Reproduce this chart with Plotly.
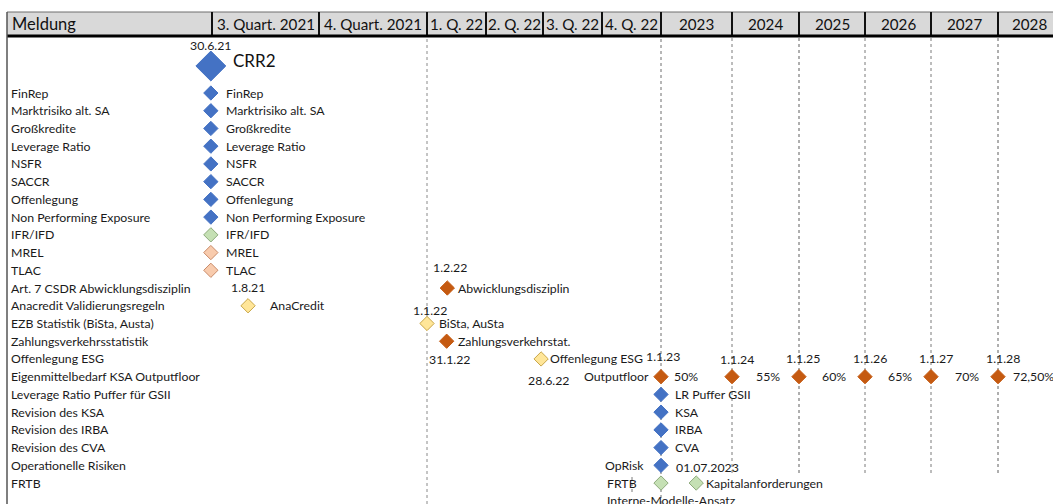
import plotly.graph_objects as go
from datetime import date

# ------------------------------------------------------------------ data
HEADER_LABELS = ["Meldung", "3. Quart. 2021", "4. Quart. 2021", "1. Q. 22", "2. Q. 22",
                 "3. Q. 22", "4. Q. 22", "2023", "2024", "2025", "2026", "2027", "2028"]
PERIOD_STARTS = [None, date(2021, 7, 1), date(2021, 10, 1), date(2022, 1, 1), date(2022, 4, 1),
                 date(2022, 7, 1), date(2022, 10, 1), date(2023, 1, 1), date(2024, 1, 1),
                 date(2025, 1, 1), date(2026, 1, 1), date(2027, 1, 1), date(2028, 1, 1)]
PERIOD_END = date(2029, 1, 1)

ROW_LABELS = ["FinRep", "Marktrisiko alt. SA", "Großkredite", "Leverage Ratio", "NSFR", "SACCR",
              "Offenlegung", "Non Performing Exposure", "IFR/IFD", "MREL", "TLAC",
              "Art. 7 CSDR Abwicklungsdisziplin", "Anacredit Validierungsregeln",
              "EZB Statistik (BiSta, Austa)", "Zahlungsverkehrsstatistik", "Offenlegung ESG",
              "Eigenmittelbedarf KSA Outputfloor", "Leverage Ratio Puffer für GSII",
              "Revision des KSA", "Revision des IRBA", "Revision des CVA",
              "Operationelle Risiken", "FRTB"]

# headline milestone
CRR2_DATE = date(2021, 6, 30)
CRR2_LABEL = "CRR2"
CRR2_DATE_LABEL = "30.6.21"

# milestones
MS_ROW = ["FinRep", "Marktrisiko alt. SA", "Großkredite", "Leverage Ratio", "NSFR", "SACCR",
          "Offenlegung", "Non Performing Exposure", "IFR/IFD", "MREL", "TLAC",
          "Art. 7 CSDR Abwicklungsdisziplin", "Anacredit Validierungsregeln",
          "EZB Statistik (BiSta, Austa)", "Zahlungsverkehrsstatistik", "Offenlegung ESG",
          "Eigenmittelbedarf KSA Outputfloor", "Eigenmittelbedarf KSA Outputfloor",
          "Eigenmittelbedarf KSA Outputfloor", "Eigenmittelbedarf KSA Outputfloor",
          "Eigenmittelbedarf KSA Outputfloor", "Eigenmittelbedarf KSA Outputfloor",
          "Leverage Ratio Puffer für GSII", "Revision des KSA", "Revision des IRBA",
          "Revision des CVA", "Operationelle Risiken", "FRTB", "FRTB"]
MS_DATE = [date(2021, 6, 30), date(2021, 6, 30), date(2021, 6, 30), date(2021, 6, 30),
           date(2021, 6, 30), date(2021, 6, 30), date(2021, 6, 30), date(2021, 6, 30),
           date(2021, 6, 30), date(2021, 6, 30), date(2021, 6, 30),
           date(2022, 2, 1), date(2021, 8, 1), date(2022, 1, 1), date(2022, 1, 31),
           date(2022, 6, 28),
           date(2023, 1, 1), date(2024, 1, 1), date(2025, 1, 1), date(2026, 1, 1),
           date(2027, 1, 1), date(2028, 1, 1),
           date(2023, 1, 1), date(2023, 1, 1), date(2023, 1, 1), date(2023, 1, 1),
           date(2023, 1, 1), date(2023, 1, 1), date(2023, 7, 1)]
MS_KIND = ["CRR2", "CRR2", "CRR2", "CRR2", "CRR2", "CRR2", "CRR2", "CRR2",
           "IFR", "Abwicklung", "Abwicklung",
           "Umsetzung", "Statistik", "Statistik", "Umsetzung", "Statistik",
           "Umsetzung", "Umsetzung", "Umsetzung", "Umsetzung", "Umsetzung", "Umsetzung",
           "CRR2", "CRR2", "CRR2", "CRR2", "CRR2", "IFR", "IFR"]
MS_LABEL = ["FinRep", "Marktrisiko alt. SA", "Großkredite", "Leverage Ratio", "NSFR", "SACCR",
            "Offenlegung", "Non Performing Exposure", "IFR/IFD", "MREL", "TLAC",
            "Abwicklungsdisziplin", "AnaCredit", "BiSta, AuSta", "Zahlungsverkehrstat.",
            "Offenlegung ESG", "50%", "55%", "60%", "65%", "70%", "72,50%",
            "LR Puffer GSII", "KSA", "IRBA", "CVA", "01.07.2023", "", "Kapitalanforderungen"]
MS_DATE_LABEL = ["", "", "", "", "", "", "", "", "", "", "",
                 "1.2.22", "1.8.21", "1.1.22", "31.1.22", "28.6.22",
                 "1.1.23", "1.1.24", "1.1.25", "1.1.26", "1.1.27", "1.1.28",
                 "", "", "", "", "", "", ""]

# free notes beside milestones
NOTE_TEXT = ["Outputfloor", "OpRisk", "FRTB", "Interne-Modelle-Ansatz"]
NOTE_ROW = ["Eigenmittelbedarf KSA Outputfloor", "Operationelle Risiken", "FRTB", "FRTB"]
NOTE_DATE = [date(2023, 1, 1), date(2023, 1, 1), date(2023, 1, 1), date(2023, 1, 1)]

# ------------------------------------------------------------------ style / layout
W, H = 1053, 504
COL_EDGES = [7, 212, 319, 427, 486, 543, 602, 661, 732, 799, 865, 931, 998, 1065]
ROW0_PX, ROW_STEP = 93, 17.73
HEAD_TOP, HEAD_BOT = 12, 36
FONT = "Lato"
FS = 12.3
TXT = "#1a1a1a"
KIND_STYLE = {
    "CRR2": dict(color="#4472C4", line=dict(color="#4472C4", width=1)),
    "IFR": dict(color="#C5E0B4", line=dict(color="#8DAA7B", width=1)),
    "Abwicklung": dict(color="#F8CBAD", line=dict(color="#C98A68", width=1)),
    "Statistik": dict(color="#FFE699", line=dict(color="#C9A648", width=1)),
    "Umsetzung": dict(color="#C55A11", line=dict(color="#C55A11", width=1)),
}
# label offsets (px) per milestone
MS_LABEL_DX = [13, 13, 13, 13, 13, 13, 13, 13, 13, 13, 13,
               9, 20, 10, 9, 7,
               11, 22, 21, 21, 22, 13,
               12, 12, 12, 12, 13, 0, 8]
MS_LABEL_DY = [0] * 26 + [-2, 0, 0]
MS_DATE_DX = [0] * 11 + [3, 0, 3, 3, 7, 2, 5, 4, 5, 5, 5] + [0] * 7
MS_DATE_DY = [0] * 11 + [21, 18, 13, -18, -22, 20, 17, 18, 18, 18, 18] + [0] * 7
NOTE_DX = [-10, -15, -56, -56]
NOTE_DY = [0, 0, 0, -17]
NOTE_ANCHOR = ["right", "right", "left", "left"]


def date_to_x(d):
    """piecewise-linear timeline scale defined by the header columns"""
    starts = PERIOD_STARTS[1:] + [PERIOD_END]
    edges = COL_EDGES[1:]
    if d < starts[0]:
        span = (starts[1] - starts[0]).days
        return edges[0] - (starts[0] - d).days * (edges[1] - edges[0]) / span
    for i in range(len(starts) - 1):
        if starts[i] <= d < starts[i + 1]:
            frac = (d - starts[i]).days / (starts[i + 1] - starts[i]).days
            return edges[i] + frac * (edges[i + 1] - edges[i])
    return edges[-1]


def row_y(name):
    return ROW_LABELS.index(name)


def px_to_row(py):
    return (py - ROW0_PX) / ROW_STEP


fig = go.Figure()

# markers per kind
for kind, st in KIND_STYLE.items():
    xs = [date_to_x(d) for d, k in zip(MS_DATE, MS_KIND) if k == kind]
    ys = [row_y(r) for r, k in zip(MS_ROW, MS_KIND) if k == kind]
    fig.add_trace(go.Scatter(x=xs, y=ys, mode="markers", hoverinfo="skip", showlegend=False,
                             marker=dict(symbol="diamond", size=11, **st)))

# CRR2 headline marker
crr_y = px_to_row(66)
fig.add_trace(go.Scatter(x=[date_to_x(CRR2_DATE)], y=[crr_y], mode="markers", hoverinfo="skip",
                         showlegend=False,
                         marker=dict(symbol="diamond", size=23, **KIND_STYLE["CRR2"])))

ann = []
# header
shapes = [dict(type="rect", xref="x", yref="paper", x0=COL_EDGES[0], x1=W + 20,
               y0=1 - HEAD_BOT / H, y1=1 - HEAD_TOP / H, fillcolor="#D9D9D9",
               line=dict(width=0), layer="below")]
shapes.append(dict(type="line", xref="x", yref="paper", x0=COL_EDGES[0], x1=W + 20,
                   y0=1 - HEAD_TOP / H, y1=1 - HEAD_TOP / H, line=dict(color="#6e6e6e", width=1)))
for e in COL_EDGES[1:-1]:
    shapes.append(dict(type="line", xref="x", yref="paper", x0=e, x1=e,
                       y0=1 - HEAD_BOT / H, y1=1 - HEAD_TOP / H, line=dict(color="#111", width=2)))
shapes.append(dict(type="line", xref="x", yref="paper", x0=COL_EDGES[0], x1=W + 20,
                   y0=1 - HEAD_BOT / H, y1=1 - HEAD_BOT / H, line=dict(color="#000", width=3)))
shapes.append(dict(type="line", xref="x", yref="paper", x0=COL_EDGES[0], x1=COL_EDGES[0],
                   y0=0, y1=1 - HEAD_TOP / H, line=dict(color="#555", width=1.5)))
head_y = 1 - (HEAD_TOP + HEAD_BOT) / 2 / H
for i, lab in enumerate(HEADER_LABELS):
    if i == 0:
        ann.append(dict(x=COL_EDGES[0] + 3, y=head_y, xref="x", yref="paper", yanchor="middle",
                        text=lab, showarrow=False, xanchor="left",
                        font=dict(family=FONT, size=16.5, color="#111")))
    else:
        cx_h = (COL_EDGES[i] + COL_EDGES[i + 1]) / 2 if i < len(HEADER_LABELS) - 1 \
            else COL_EDGES[i] + 31
        ann.append(dict(x=cx_h, y=head_y, xref="x", yref="paper", yanchor="middle", text=lab,
                        showarrow=False, xanchor="center",
                        font=dict(family=FONT, size=15.2, color="#111")))

# vertical period lines
for ps, long, col in [(date(2022, 1, 1), True, "#8a8a8a"), (date(2023, 1, 1), True, "#6f6f6f"),
                      (date(2024, 1, 1), False, "#7a7a7a"), (date(2025, 1, 1), False, "#5f5f5f"),
                      (date(2026, 1, 1), False, "#7a7a7a"), (date(2027, 1, 1), False, "#7a7a7a"),
                      (date(2028, 1, 1), False, "#5f5f5f")]:
    x = date_to_x(ps)
    shapes.append(dict(type="line", xref="x", yref="paper", x0=x, x1=x,
                       y0=0 if long else 1 - 473 / H, y1=1 - HEAD_BOT / H - 0.004,
                       line=dict(color=col, width=1, dash="dot"), layer="below"))
# small dotted tick near FRTB
shapes.append(dict(type="line", xref="x", yref="paper", x0=632, x1=632, y0=1 - 492 / H,
                   y1=1 - 474 / H, line=dict(color="#7a7a7a", width=1, dash="dot")))

# row labels
for i, lab in enumerate(ROW_LABELS):
    ann.append(dict(x=9, y=i, text=lab, showarrow=False, xanchor="left", yanchor="middle",
                    font=dict(family=FONT, size=FS, color=TXT)))

# CRR2 headline texts
cx = date_to_x(CRR2_DATE)
ann.append(dict(x=cx, y=crr_y, text=CRR2_LABEL, showarrow=False, xanchor="left", xshift=20,
                yshift=6, yanchor="middle", font=dict(family=FONT, size=17, color="#111")))
ann.append(dict(x=cx, y=crr_y, text=CRR2_DATE_LABEL, showarrow=False, xanchor="center",
                yanchor="middle", yshift=21, font=dict(family=FONT, size=FS, color=TXT)))

# milestone labels
for r, d, lab, dx, dy, dl, ddx, ddy in zip(MS_ROW, MS_DATE, MS_LABEL, MS_LABEL_DX, MS_LABEL_DY,
                                           MS_DATE_LABEL, MS_DATE_DX, MS_DATE_DY):
    x, y = date_to_x(d), row_y(r)
    if lab:
        ann.append(dict(x=x, y=y, text=lab, showarrow=False, xanchor="left", yanchor="middle",
                        xshift=dx, yshift=dy, font=dict(family=FONT, size=FS, color=TXT)))
    if dl:
        ann.append(dict(x=x, y=y, text=dl, showarrow=False, xanchor="center", yanchor="middle",
                        xshift=ddx, yshift=ddy, font=dict(family=FONT, size=FS, color=TXT)))

# notes
for t, r, d, dx, dy, a in zip(NOTE_TEXT, NOTE_ROW, NOTE_DATE, NOTE_DX, NOTE_DY, NOTE_ANCHOR):
    ann.append(dict(x=date_to_x(d), y=row_y(r), text=t, showarrow=False, xanchor=a,
                    yanchor="middle", xshift=dx, yshift=dy,
                    font=dict(family=FONT, size=FS, color=TXT)))

fig.update_layout(
    width=W, height=H, margin=dict(l=0, r=0, t=0, b=0),
    paper_bgcolor="white", plot_bgcolor="white",
    xaxis=dict(range=[0, W], visible=False, fixedrange=True),
    yaxis=dict(range=[px_to_row(H), px_to_row(0)], visible=False, fixedrange=True),
    shapes=shapes, annotations=ann, showlegend=False,
)
fig.write_html("out.html", config={"displayModeBar": False},
               post_script="document.body.style.margin='0';document.body.style.overflow='hidden';")
